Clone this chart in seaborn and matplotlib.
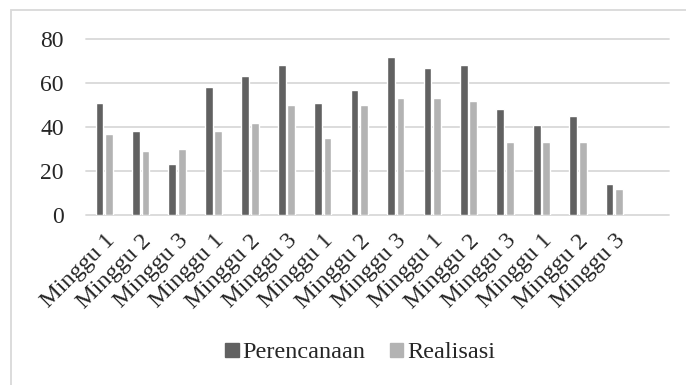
import pandas as pd
import matplotlib.pyplot as plt
import seaborn as sns
from matplotlib.patches import Rectangle

# Data
weeks = ["Minggu 1", "Minggu 2", "Minggu 3"] * 5
perencanaan = [51, 38, 23, 58, 63, 68, 51, 57, 72, 67, 68, 48, 41, 45, 14]
realisasi = [37, 29, 30, 38, 42, 50, 35, 50, 53, 53, 52, 33, 33, 33, 12]
series_names = ["Perencanaan", "Realisasi"]
colors = ["#616161", "#b3b3b3"]

# Long format for seaborn
df = pd.DataFrame({
    "idx": list(range(len(weeks))) * 2,
    "value": perencanaan + realisasi,
    "series": [series_names[0]] * len(weeks) + [series_names[1]] * len(weeks),
})

sns.set_style("white")
plt.rcParams["font.family"] = ["Liberation Serif", "DejaVu Serif"]

fig = plt.figure(figsize=(6.86, 3.85), dpi=100)
ax = fig.add_axes([86 / 686, 1 - 215 / 385, (669 - 86) / 686, (215 - 39) / 385])

sns.barplot(data=df, x="idx", y="value", hue="series", palette=colors,
            width=0.52, gap=0.18, ax=ax, legend=False)

# 16 category slots, the last one empty
ax.set_xlim(-0.5, 15.5)
ax.set_ylim(0, 80)
ax.set_yticks([0, 20, 40, 60, 80])
ax.set_xticks(range(len(weeks)))
ax.set_xticklabels(weeks, rotation=45, ha="right", rotation_mode="anchor", fontsize=17.5)
ax.tick_params(axis="y", labelsize=17, pad=16, length=0)
ax.tick_params(axis="x", pad=11, length=0)
ax.set_xlabel("")
ax.set_ylabel("")
for s in ax.spines.values():
    s.set_visible(False)
ax.grid(axis="y", color="#d9d9d9", linewidth=1.3)
for gl in ax.get_ygridlines():
    gl.set_clip_on(False)
ax.set_axisbelow(True)

# Legend
handles = [Rectangle((0, 0), 1, 1, color=c) for c in colors]
fig.legend(handles, series_names, loc="center", bbox_to_anchor=(0.525, 1 - 353 / 385),
           ncol=2, frameon=False, fontsize=17.5, handlelength=0.55, handleheight=0.55,
           handletextpad=0.15, columnspacing=1.0)

# Chart border
fig.patches.append(Rectangle((11 / 686, -0.1), 1.2, 1 - 10 / 385 + 0.1, transform=fig.transFigure,
                             fill=False, edgecolor="#d9d9d9", linewidth=1.3))

fig.savefig("out.png", dpi=100)
